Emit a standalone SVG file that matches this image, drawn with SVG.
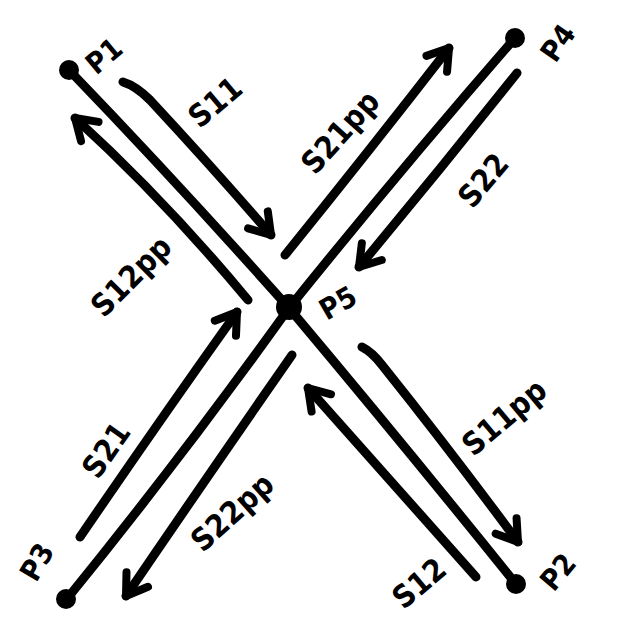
<svg xmlns="http://www.w3.org/2000/svg" width="631" height="637" viewBox="0 0 631 637">
<defs>
<style>
.wire{fill:none;stroke:#000;stroke-width:9;stroke-linecap:round;stroke-linejoin:round}
.arr{fill:none;stroke:#000;stroke-width:9;stroke-linecap:round;stroke-linejoin:round;marker-end:url(#head)}
.dot{fill:#000}
.lbl{font-family:"DejaVu Sans Condensed","DejaVu Sans",sans-serif;font-stretch:condensed;font-weight:bold;font-size:31px;fill:#000;text-anchor:middle;dominant-baseline:central}
.plbl{font-family:"DejaVu Sans Condensed","DejaVu Sans",sans-serif;font-stretch:condensed;font-weight:bold;font-size:29px;fill:#000;text-anchor:middle;dominant-baseline:central}
</style>
<marker id="head" viewBox="-30 -20 40 40" markerWidth="40" markerHeight="40" refX="0" refY="0" orient="auto" markerUnits="userSpaceOnUse">
<path d="M -20 -13 L 0 0 L -20 13" fill="none" stroke="#000" stroke-width="8" stroke-linecap="round" stroke-linejoin="round"/>
</marker>
</defs>
<rect width="631" height="637" fill="#fff"/>
<g id="connectors">
<path class="wire" d="M 69 70 Q 175 180 289 308 Q 400 440 516 584"/>
<path class="wire" d="M 515 38 Q 400 170 289 308 Q 180 460 66 600"/>
<g id="s11"><path class="arr" d="M 123 82 Q 136 86 150 100 Q 215 170 271 235"/><text class="lbl" transform="translate(215 102) rotate(-40)">S11</text></g>
<g id="s12pp"><path class="arr" d="M 248 300 Q 165 200 75 118"/><text class="lbl" transform="translate(131 276) rotate(-45)">S12pp</text></g>
<g id="s21pp"><path class="arr" d="M 285 255 Q 370 150 449 48"/><text class="lbl" transform="translate(340 132) rotate(-48)">S21pp</text></g>
<g id="s22"><path class="arr" d="M 517 73 Q 440 170 359 267"/><text class="lbl" transform="translate(483 180) rotate(-50)">S22</text></g>
<g id="s21"><path class="arr" d="M 80 537 Q 160 420 237 312"/><text class="lbl" transform="translate(106 450) rotate(-55)">S21</text></g>
<g id="s22pp"><path class="arr" d="M 292 355 Q 205 480 126 596"/><text class="lbl" transform="translate(232 512) rotate(-42)">S22pp</text></g>
<g id="s11pp"><path class="arr" d="M 362 347 Q 372 352 382 365 Q 450 450 518 542"/><text class="lbl" transform="translate(504 417) rotate(-40)">S11pp</text></g>
<g id="s12"><path class="arr" d="M 476 577 Q 390 480 308 388"/><text class="lbl" transform="translate(419 583) rotate(-40)">S12</text></g>
</g>
<g id="P1"><circle class="dot" cx="69" cy="70" r="10"/><text class="plbl" transform="translate(104 56) rotate(-40)">P1</text></g>
<g id="P4"><circle class="dot" cx="515" cy="38" r="10"/><text class="plbl" transform="translate(558 43) rotate(-55)">P4</text></g>
<g id="P5"><circle class="dot" cx="289" cy="307" r="13"/><text class="plbl" transform="translate(338 303) rotate(-30)">P5</text></g>
<g id="P2"><circle class="dot" cx="516" cy="584" r="10"/><text class="plbl" transform="translate(558 572) rotate(-50)">P2</text></g>
<g id="P3"><circle class="dot" cx="66" cy="599" r="10"/><text class="plbl" transform="translate(37 562) rotate(-60)">P3</text></g>
</svg>
